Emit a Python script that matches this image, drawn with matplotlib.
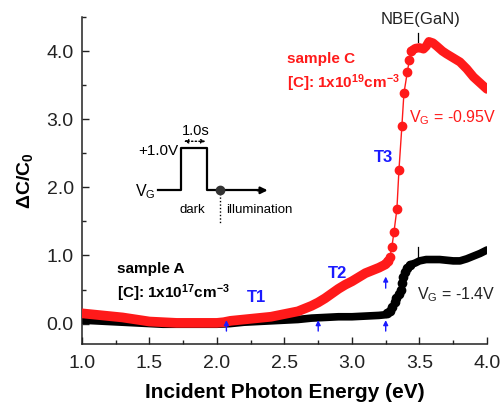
import matplotlib
matplotlib.use("Agg")
import matplotlib.pyplot as plt
from matplotlib.ticker import MultipleLocator

plt.rcParams['font.family'] = ['Liberation Sans', 'DejaVu Sans']
plt.rcParams['mathtext.fontset'] = 'custom'
plt.rcParams['mathtext.rm'] = 'Liberation Sans'
plt.rcParams['mathtext.bf'] = 'Liberation Sans:bold'
plt.rcParams['mathtext.default'] = 'regular'

# ---- data: sample A (black, V_G = -1.4 V) ----
a_x_low = [1.0, 1.1, 1.2, 1.3, 1.4, 1.5, 1.6, 1.7, 1.8, 1.9, 2.0, 2.1, 2.2, 2.3,
           2.4, 2.5, 2.6, 2.7, 2.8, 2.9, 3.0, 3.1, 3.2, 3.25]
a_y_low = [0.05, 0.04, 0.03, 0.02, 0.01, 0.0, -0.01, -0.01, -0.01, -0.01, -0.01,
           0.0, 0.02, 0.03, 0.04, 0.05, 0.06, 0.08, 0.09, 0.10, 0.10, 0.11, 0.12, 0.13]
a_x_step = [3.26, 3.28, 3.30, 3.32, 3.33, 3.345, 3.36, 3.37, 3.38, 3.39, 3.41, 3.43]
a_y_step = [0.15, 0.19, 0.25, 0.32, 0.38, 0.44, 0.50, 0.60, 0.69, 0.75, 0.82, 0.86]
a_x_high = [3.43, 3.47, 3.50, 3.55, 3.60, 3.65, 3.70, 3.75, 3.80, 3.85, 3.90, 3.95, 4.0]
a_y_high = [0.86, 0.89, 0.92, 0.94, 0.94, 0.94, 0.93, 0.92, 0.92, 0.95, 0.99, 1.03, 1.08]

# ---- data: sample C (red, V_G = -0.95 V) ----
c_x_low = [1.0, 1.1, 1.2, 1.3, 1.4, 1.5, 1.6, 1.7, 1.8, 1.9, 2.0, 2.05, 2.1, 2.2,
           2.3, 2.4, 2.5, 2.6, 2.65, 2.7, 2.75, 2.8, 2.85, 2.9, 2.95, 3.0, 3.05,
           3.1, 3.15, 3.2, 3.25, 3.27]
c_y_low = [0.15, 0.13, 0.11, 0.09, 0.06, 0.03, 0.02, 0.01, 0.01, 0.01, 0.01, 0.02,
           0.04, 0.06, 0.08, 0.10, 0.14, 0.18, 0.22, 0.26, 0.31, 0.37, 0.44, 0.51,
           0.57, 0.62, 0.68, 0.74, 0.78, 0.82, 0.87, 0.92]
c_x_step = [3.27, 3.281, 3.296, 3.311, 3.333, 3.348, 3.37, 3.385, 3.41, 3.425, 3.44]
c_y_step = [0.92, 0.97, 1.13, 1.34, 1.68, 2.25, 2.90, 3.38, 3.69, 3.87, 4.00]
c_x_high = [3.44, 3.47, 3.50, 3.53, 3.55, 3.57, 3.60, 3.63, 3.67, 3.70, 3.75,
            3.80, 3.85, 3.90, 3.95, 4.0]
c_y_high = [4.00, 4.04, 4.05, 4.03, 4.07, 4.14, 4.12, 4.07, 4.00, 3.96, 3.90,
            3.84, 3.74, 3.62, 3.53, 3.44]

arrow_x = [2.07, 2.75, 3.25]

x_ticks = [1.0, 1.5, 2.0, 2.5, 3.0, 3.5, 4.0]
y_ticks = [0.0, 1.0, 2.0, 3.0, 4.0]

RED = '#ff1a1a'
BLUE = '#1a1aff'

fig = plt.figure(figsize=(5.02, 4.05), dpi=100)
ax = fig.add_axes([0.1633, 0.1506, 0.8067, 0.8074])

# sample A
ax.plot(a_x_low, a_y_low, color='black', lw=5.5, solid_capstyle='round', zorder=2)
ax.plot(a_x_high, a_y_high, color='black', lw=5.5, solid_capstyle='round', zorder=2)
ax.plot(a_x_step, a_y_step, 'o', color='black', ms=6, zorder=2)

# sample C
ax.plot(c_x_step, c_y_step, '-', color=RED, lw=1.0, zorder=3)
ax.plot(c_x_step, c_y_step, 'o', color=RED, ms=6, zorder=3)
ax.plot(c_x_low, c_y_low, color=RED, lw=7, solid_capstyle='round', zorder=3)
ax.plot(c_x_high, c_y_high, color=RED, lw=6.5, solid_capstyle='round', zorder=3)

# blue arrows
for xa in arrow_x:
    ax.annotate('', xy=(xa, 0.05), xytext=(xa, -0.11),
                arrowprops=dict(arrowstyle='-|>', color=BLUE, lw=1.0,
                                mutation_scale=7, shrinkA=0, shrinkB=0))
ax.annotate('', xy=(3.25, 0.69), xytext=(3.25, 0.52),
            arrowprops=dict(arrowstyle='-|>', color=BLUE, lw=1.0,
                            mutation_scale=7, shrinkA=0, shrinkB=0))

# NBE marks
ax.plot([3.49, 3.49], [4.14, 4.26], color='black', lw=0.9)
ax.plot([3.49, 3.49], [0.96, 1.12], color='black', lw=0.9)
ax.text(3.505, 4.47, 'NBE(GaN)', ha='center', va='center', fontsize=12, color='#222222')

# labels
ax.text(2.52, 3.88, 'sample C', color=RED, fontsize=11, fontweight='bold', va='center')
ax.text(2.52, 3.53, r'[C]: 1x10$^{19}$cm$^{-3}$', color=RED, fontsize=11,
        fontweight='bold', va='center')
ax.text(3.42, 3.03, r'V$_G$ = -0.95V', color=RED, fontsize=11.5, va='center')
ax.text(3.16, 2.44, 'T3', color=BLUE, fontsize=12, fontweight='bold', va='center')
ax.text(2.82, 0.74, 'T2', color=BLUE, fontsize=12, fontweight='bold', va='center')
ax.text(2.22, 0.38, 'T1', color=BLUE, fontsize=12, fontweight='bold', va='center')
ax.text(1.26, 0.80, 'sample A', color='black', fontsize=11, fontweight='bold', va='center')
ax.text(1.26, 0.44, r'[C]: 1x10$^{17}$cm$^{-3}$', color='black', fontsize=11,
        fontweight='bold', va='center')
ax.text(3.48, 0.43, r'V$_G$ = -1.4V', color='#222222', fontsize=11.5, va='center')

# inset schematic of gate pulse
base, top = 1.956, 2.574
ax.plot([1.563, 1.733, 1.733, 1.926, 1.926, 2.35],
        [base, base, top, top, base, base], color='black', lw=1.6, zorder=4)
ax.annotate('', xy=(2.375, base), xytext=(2.30, base),
            arrowprops=dict(arrowstyle='-|>', color='black', lw=1.6,
                            mutation_scale=10, shrinkA=0, shrinkB=0))
ax.plot([2.022], [base], 'o', color='#333333', ms=6, zorder=5)
ax.plot([2.022, 2.022], [base, 1.48], color='black', lw=1.0, ls=(0, (1, 1.5)))
ax.annotate('', xy=(1.755, 2.676), xytext=(1.915, 2.676),
            arrowprops=dict(arrowstyle='<|-|>', color='black', lw=1.0, ls=':',
                            mutation_scale=6, shrinkA=0, shrinkB=0))
ax.text(1.845, 2.82, '1.0s', ha='center', va='center', fontsize=10.5)
ax.text(1.715, 2.53, '+1.0V', ha='right', va='center', fontsize=11)
ax.text(1.545, 1.94, r'V$_G$', ha='right', va='center', fontsize=11.5)
ax.text(1.815, 1.67, 'dark', ha='center', va='center', fontsize=9.5)
ax.text(2.065, 1.67, 'illumination', ha='left', va='center', fontsize=9.5)

# axes styling
ax.set_xlim(1.0, 4.0)
ax.set_ylim(-0.3, 4.5)
ax.set_xticks(x_ticks)
ax.set_yticks(y_ticks)
ax.set_xticklabels([f'{v:.1f}' for v in x_ticks])
ax.set_yticklabels([f'{v:.1f}' for v in y_ticks])
ax.xaxis.set_minor_locator(MultipleLocator(0.25))
ax.yaxis.set_minor_locator(MultipleLocator(0.5))
ax.tick_params(which='both', direction='in', width=1.0, labelsize=14,
               colors='#222222')
ax.tick_params(which='major', length=5)
ax.tick_params(which='minor', length=3)
ax.tick_params(axis='x', pad=8)
ax.tick_params(axis='y', pad=6)
for s in ['top', 'right']:
    ax.spines[s].set_visible(False)
for s in ['left', 'bottom']:
    ax.spines[s].set_linewidth(1.1)
    ax.spines[s].set_color('#222222')

ax.set_xlabel('Incident Photon Energy (eV)', fontsize=15, fontweight='bold', labelpad=8)
ax.set_ylabel(r'ΔC/C$_0$', fontsize=14, fontweight='bold', labelpad=8)

fig.savefig('out.png', dpi=100)
